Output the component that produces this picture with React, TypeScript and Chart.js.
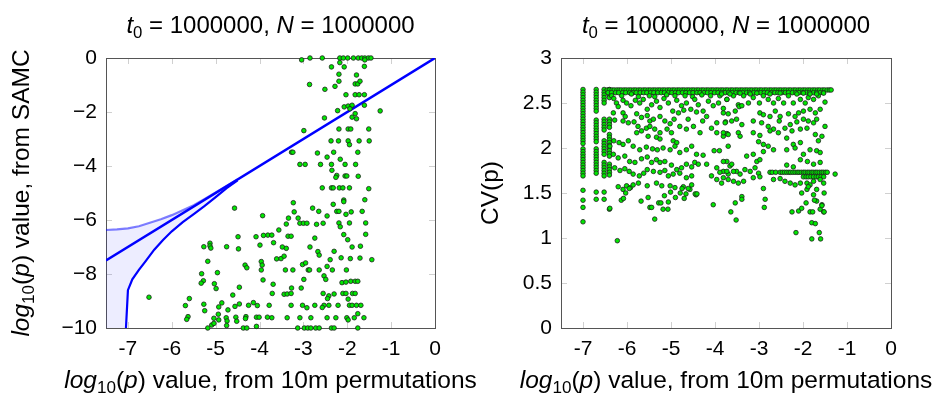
import React, { useEffect, useRef } from 'react';
import { Chart, registerables } from 'chart.js';

Chart.register(...registerables);

const FONT = '"Liberation Sans", Arial, Helvetica, sans-serif';

// ---------- axes ----------
const X_TICKS = [-7, -6, -5, -4, -3, -2, -1, 0];
const X_TICK_LABELS = ['-7', '-6', '-5', '-4', '-3', '-2', '-1', '0'];
const LEFT_Y_TICKS = [-10, -8, -6, -4, -2, 0];
const LEFT_Y_LABELS = ['−10', '−8', '−6', '−4', '−2', '0'];
const RIGHT_Y_TICKS = [0, 0.5, 1, 1.5, 2, 2.5, 3];
const RIGHT_Y_LABELS = ['0', '0.5', '1', '1.5', '2', '2.5', '3'];

type Part = { t: string; i?: boolean; sub?: boolean };
const TITLE: Part[] = [{ t: 't', i: true }, { t: '0', sub: true }, { t: ' = 1000000, ' }, { t: 'N', i: true }, { t: ' = 1000000' }];
const X_LABEL: Part[] = [{ t: 'log', i: true }, { t: '10', sub: true }, { t: '(' }, { t: 'p', i: true }, { t: ') value, from 10m permutations' }];
const LEFT_Y_LABEL: Part[] = [{ t: 'log', i: true }, { t: '10', sub: true }, { t: '(' }, { t: 'p', i: true }, { t: ') value, from SAMC' }];
const RIGHT_Y_LABEL: Part[] = [{ t: 'CV(p)' }];

// ---------- left chart data ----------
const DIAG_X = [-7.5, 0];
const DIAG_Y = [-7.5, 0];
const UPPER_X = [-7.5, -7.25, -7.0, -6.75, -6.5, -6.25, -6.0, -5.75, -5.5, -5.25, -5.0, -4.75, -4.5];
const UPPER_Y = [-6.37, -6.35, -6.31, -6.23, -6.1, -5.97, -5.82, -5.64, -5.45, -5.22, -4.98, -4.74, -4.5];
const LOWER_X = [-7.045, -7.0, -6.9, -6.75, -6.6, -6.4, -6.2, -6.0, -5.75, -5.5, -5.25, -5.0, -4.75, -4.5];
const LOWER_Y = [-10, -8.6, -8.2, -7.85, -7.53, -7.1, -6.74, -6.42, -6.08, -5.78, -5.48, -5.15, -4.82, -4.53];

const LEFT_POINTS: number[][] = [
  [-3.04, -0.07], [-2.85, 0], [-2.57, 0], [-2.17, 0], [-2.09, 0], [-1.99, 0], [-1.86, 0], [-1.75, 0], [-1.67, 0], [-1.6, 0], [-1.52, 0], [-1.46, 0],
  [-2.17, -0.17], [-2.07, -0.33], [-2.36, -0.33], [-1.6, -0.07], [-1.61, -0.31], [-2.19, -0.6], [-1.79, -0.63],
  [-2.86, -0.98], [-2.51, -1.16], [-2.28, -1.05], [-2.19, -0.86], [-1.82, -0.96], [-1.76, -0.96], [-1.71, -0.86],
  [-2.03, -1.36], [-1.82, -1.36], [-1.73, -1.36], [-1.61, -1.36], [-1.25, -1.96],
  [-2.07, -1.81], [-1.98, -1.78], [-1.89, -1.75], [-1.94, -1.88], [-1.82, -2.06], [-1.89, -2.19], [-1.79, -2.25], [-1.61, -1.75], [-2.22, -1.95], [-2.52, -2.22],
  [-2.99, -2.69], [-2.19, -2.63], [-1.98, -2.63], [-1.92, -2.63], [-1.51, -2.63],
  [-2.37, -3.07], [-2.2, -3.07], [-1.98, -3.07], [-1.95, -3.21], [-1.73, -3.07], [-1.5, -3.07],
  [-3.27, -3.49], [-3.24, -3.49], [-2.68, -3.52], [-2.31, -3.49], [-1.76, -3.49], [-2.46, -3.67], [-2.16, -3.75],
  [-3.08, -3.94], [-2.96, -3.94], [-2.61, -3.94], [-2.36, -3.94], [-2.05, -3.94], [-1.81, -3.94],
  [-2.35, -4.16], [-2.24, -4.35], [-2.26, -4.42], [-2.05, -4.37], [-2.01, -4.37], [-1.75, -4.38],
  [-2.57, -4.81], [-2.36, -4.81], [-2.32, -4.81], [-2.18, -4.81], [-2.1, -4.81], [-1.95, -4.81], [-1.51, -4.84],
  [-3.23, -5.36], [-2.08, -5.26], [-2.08, -5.32], [-1.6, -5.25], [-2.32, -5.42], [-2.79, -5.56], [-2.65, -5.68], [-2.24, -5.68], [-2.19, -5.68], [-1.91, -5.7], [-1.66, -5.68], [-3.21, -5.7],
  [-3.34, -5.93], [-3.12, -5.93], [-2.46, -5.85], [-2.03, -5.79],
  [-3.39, -6.15], [-3.08, -6.12], [-3.0, -6.12], [-2.92, -6.12], [-2.7, -6.16], [-2.55, -6.12], [-2.19, -6.11], [-2.16, -6.25], [-1.95, -6.11], [-1.58, -6.11],
  [-3.56, -6.37], [-3.81, -6.56], [-3.72, -6.56], [-3.35, -6.6], [-3.28, -6.6], [-2.08, -6.54], [-1.99, -6.73], [-1.58, -6.53], [-2.74, -6.67],
  [-3.68, -6.84], [-2.85, -7.0], [-3.48, -7.0], [-3.39, -7.05], [-2.67, -7.17], [-2.64, -7.3], [-2.3, -7.16], [-1.89, -7.0], [-1.7, -6.97],
  [-3.61, -7.44], [-3.51, -7.43], [-3.44, -7.34], [-2.39, -7.47], [-2.14, -7.4], [-1.93, -7.43], [-1.71, -7.41], [-1.44, -7.47],
  [-3.02, -7.65], [-2.95, -7.59], [-2.46, -7.72],
  [-3.41, -7.85], [-3.24, -7.85], [-2.89, -7.85], [-2.86, -7.85], [-2.64, -7.85], [-2.34, -7.85], [-2.02, -7.85],
  [-2.53, -8.07], [-2.49, -8.2], [-2.12, -8.32], [-2.03, -8.3], [-1.92, -8.27], [-1.82, -8.27], [-1.76, -8.27], [-2.99, -8.2],
  [-3.27, -8.52], [-3.05, -8.52], [-3.69, -8.38],
  [-3.44, -8.75], [-3.37, -8.74], [-3.28, -8.72], [-3.71, -8.72], [-2.55, -8.72], [-2.42, -8.81], [-2.3, -8.74], [-2.45, -8.91], [-2.1, -8.72], [-2.03, -8.72], [-1.88, -8.72], [-1.82, -8.72], [-1.98, -8.93],
  [-3.78, -9.16], [-3.28, -9.16], [-3.02, -9.16], [-2.92, -9.25], [-2.74, -9.16], [-2.53, -9.16], [-2.42, -9.16], [-2.21, -9.16], [-1.95, -9.16], [-1.89, -9.16], [-1.79, -9.16], [-1.69, -9.16], [-2.57, -9.24], [-1.76, -9.47],
  [-3.72, -9.62], [-3.37, -9.62], [-3.08, -9.62], [-2.83, -9.62], [-2.46, -9.62], [-2.26, -9.62], [-2.01, -9.62], [-1.84, -9.62], [-1.62, -9.62], [-1.98, -9.7],
  [-3.13, -10], [-2.98, -10], [-2.9, -10], [-2.83, -10], [-2.72, -10], [-2.64, -10], [-2.36, -10], [-2.3, -10], [-1.76, -10],
  [-4.57, -5.56], [-3.93, -5.84], [-4.49, -6.62], [-4.08, -6.62], [-3.91, -6.57],
  [-5.27, -6.99], [-5.13, -6.86], [-5.13, -6.96], [-5.11, -7.04], [-4.75, -6.99], [-4.48, -7.07], [-3.99, -6.93],
  [-5.18, -7.53], [-4.33, -7.67], [-4.29, -7.77], [-3.96, -7.54], [-3.94, -7.67], [-3.96, -7.85],
  [-4.96, -7.95], [-5.32, -7.99], [-3.92, -8.22], [-5.28, -8.25], [-5.33, -8.34], [-5.03, -8.36], [-4.99, -8.54], [-4.46, -8.49],
  [-6.52, -8.86], [-5.6, -8.91], [-4.61, -8.78], [-5.69, -9.17], [-5.27, -9.12], [-5.25, -9.36], [-4.86, -9.07], [-4.93, -9.22], [-4.72, -9.33], [-4.56, -9.2], [-4.46, -9.11], [-4.25, -9.16], [-4.14, -9.06], [-4.05, -9.17],
  [-5.63, -9.58], [-5.66, -9.68], [-5.04, -9.64], [-4.94, -9.49], [-4.93, -9.7], [-4.76, -9.62], [-4.74, -9.74], [-4.54, -9.6], [-4.52, -9.75], [-4.07, -9.6], [-4.01, -9.6], [-3.82, -9.6], [-4.31, -9.58], [-4.32, -9.65],
  [-4.75, -9.91], [-5.18, -10], [-5.09, -9.89], [-5.04, -9.83], [-4.37, -10], [-4.29, -10], [-4.07, -9.94],
];

// ---------- right chart data ----------
const CV_COL_X = [-7, -6.7, -6.52, -6.4];
const CV_COL_Y: number[][] = [
  [2.65, 2.62, 2.59, 2.56, 2.53, 2.5, 2.47, 2.44, 2.41, 2.38, 2.35, 2.32, 2.29, 2.26, 2.23, 2.2, 2.17, 2.14, 2.11, 2.08, 2.05, 1.99, 1.96, 1.93, 1.9, 1.87, 1.84, 1.81, 1.78, 1.75, 1.72, 1.69, 1.53, 1.42, 1.34, 1.18],
  [2.65, 2.62, 2.59, 2.56, 2.53, 2.5, 2.47, 2.44, 2.41, 2.31, 2.28, 2.25, 2.22, 2.19, 2.16, 2.13, 2.1, 2.07, 1.99, 1.96, 1.93, 1.9, 1.87, 1.84, 1.81, 1.78, 1.75, 1.72, 1.51, 1.43],
  [2.65, 2.62, 2.59, 2.56, 2.53, 2.5, 2.32, 2.29, 2.26, 2.23, 2.2, 2.08, 2.05, 2.02, 1.99, 1.96, 1.93, 1.84, 1.81, 1.78, 1.75, 1.72, 1.69, 1.51, 1.43],
  [2.65, 2.62, 2.59, 2.56, 2.32, 2.29, 2.26, 2.23, 2.15, 2.12, 2.09, 2.06, 2.03, 2.0, 1.97, 1.94, 1.91, 1.82, 1.79, 1.76, 1.73, 1.7, 1.32],
];
const CV_TOP_ROW_Y = 2.645;
const CV_TOP_ROW_X = [
  -6.45, -6.4, -6.34, -6.29, -6.23, -6.18, -6.13, -6.07, -6.02, -5.96, -5.91, -5.85, -5.8, -5.74, -5.69, -5.63, -5.58, -5.52, -5.47, -5.41,
  -5.36, -5.3, -5.25, -5.19, -5.14, -5.08, -5.03, -4.97, -4.92, -4.86, -4.81, -4.75, -4.7, -4.64, -4.59, -4.53, -4.48, -4.42, -4.37, -4.31,
  -4.26, -4.2, -4.15, -4.09, -4.04, -3.98, -3.93, -3.87, -3.82, -3.76, -3.71, -3.65, -3.6, -3.54, -3.49, -3.43, -3.38, -3.32, -3.27, -3.21,
  -3.16, -3.1, -3.05, -2.99, -2.94, -2.88, -2.83, -2.77, -2.72, -2.66, -2.61, -2.55, -2.5, -2.44, -2.39, -2.33, -2.28, -2.22, -2.17, -2.11,
  -2.06, -2.0, -1.95, -1.89, -1.84, -1.78, -1.73, -1.67, -1.62, -1.56, -1.51, -1.45, -1.4, -1.36,
];
const CV_SECOND_ROW_Y = 2.615;
const CV_SECOND_ROW_X = [
  -6.43, -6.35, -6.26, -6.19, -6.1, -6.03, -5.94, -5.86, -5.79, -5.7, -5.62, -5.55, -5.46, -5.39, -5.3, -5.22, -5.15, -5.06, -4.98, -4.9,
  -4.83, -4.74, -4.66, -4.58, -4.5, -4.41, -4.34, -4.25, -4.17, -4.09, -4.01, -3.93, -3.85, -3.77, -3.69, -3.61, -3.52, -3.45, -3.37, -3.28,
  -3.21, -3.12, -3.04, -2.96, -2.88, -2.81, -2.72, -2.64, -2.57, -2.48, -2.4, -2.33, -2.24, -2.16, -2.09, -2.0, -1.92, -1.85, -1.76, -1.69,
  -1.61, -1.54,
];
const CV_ROW_173_Y = 1.73;
const CV_ROW_173_X = [
  -2.75, -2.7, -2.62, -2.52, -2.47, -2.42, -2.37, -2.32, -2.28, -2.23, -2.18, -2.13, -2.09, -2.04, -1.99, -1.95, -1.9, -1.86, -1.81, -1.77,
  -1.72, -1.68, -1.63, -1.58, -1.54, -1.49, -1.45,
];
const CV_ROW_168_Y = 1.68;
const CV_ROW_168_X = [-1.99, -1.93, -1.88, -1.82, -1.76, -1.7, -1.65, -1.59, -1.53];

const CV_CLOUD: number[][] = [
  [-6.35, 2.58], [-6.12, 2.58], [-5.9, 2.6], [-5.74, 2.57], [-5.49, 2.58], [-5.37, 2.57], [-5.1, 2.59], [-4.91, 2.58], [-4.68, 2.58], [-4.51, 2.57], [-4.3, 2.59], [-4.1, 2.58], [-3.89, 2.58],
  [-6.3, 2.55], [-6.24, 2.5], [-6.2, 2.46], [-6.09, 2.53], [-6.01, 2.5], [-5.91, 2.47], [-5.81, 2.53], [-5.71, 2.5], [-5.63, 2.54], [-5.54, 2.43], [-5.44, 2.48], [-5.33, 2.52], [-5.25, 2.45], [-5.16, 2.55],
  [-5.06, 2.5], [-4.96, 2.41], [-4.87, 2.53], [-4.76, 2.47], [-4.65, 2.5], [-4.55, 2.43], [-4.46, 2.54], [-4.38, 2.48], [-4.27, 2.41], [-4.15, 2.52], [-4.04, 2.47], [-3.92, 2.5], [-3.81, 2.44], [-3.73, 2.54],
  [-6.31, 2.39], [-6.09, 2.39], [-6.04, 2.35], [-5.78, 2.38], [-5.67, 2.34], [-5.54, 2.36], [-5.48, 2.3], [-5.4, 2.32], [-5.25, 2.35], [-5.14, 2.3], [-5.02, 2.27], [-4.93, 2.32], [-4.83, 2.39], [-4.71, 2.42],
  [-4.61, 2.32], [-4.42, 2.4], [-4.28, 2.3], [-4.19, 2.35], [-3.96, 2.28], [-3.76, 2.29], [-3.7, 2.38],
  [-6.28, 2.31], [-6.09, 2.3], [-5.97, 2.28], [-5.84, 2.29], [-5.75, 2.24], [-5.56, 2.22], [-5.48, 2.24], [-5.37, 2.21], [-5.25, 2.17], [-5.09, 2.21], [-4.99, 2.17], [-4.8, 2.24], [-4.65, 2.21], [-4.49, 2.24],
  [-4.34, 2.17], [-4.08, 2.22], [-3.96, 2.17], [-3.81, 2.13], [-3.73, 2.16], [-5.78, 2.17], [-5.67, 2.19], [-5.52, 2.13], [-5.33, 2.12], [-5.25, 2.1], [-4.95, 2.08], [-4.87, 2.06],
  [-6.39, 2.02], [-6.3, 2.08], [-6.18, 2.06], [-6.09, 2.04], [-5.97, 2.08], [-5.86, 2.02], [-5.71, 1.98], [-5.56, 2.01], [-5.42, 1.99], [-5.31, 1.98], [-5.18, 2.0], [-5.02, 1.98], [-4.91, 2.02], [-4.8, 1.95],
  [-4.65, 1.98], [-4.53, 2.02], [-4.42, 1.93], [-4.27, 1.92], [-4.02, 1.97], [-3.9, 1.97], [-3.73, 1.85],
  [-6.31, 1.93], [-6.2, 1.89], [-6.05, 1.91], [-5.94, 1.85], [-5.82, 1.84], [-5.67, 1.88], [-5.54, 1.9], [-5.44, 1.84], [-5.33, 1.87], [-5.25, 1.84], [-5.14, 1.85], [-4.99, 1.81], [-4.87, 1.76], [-4.76, 1.78],
  [-4.65, 1.82], [-4.53, 1.79], [-4.46, 1.84], [-4.38, 1.82], [-4.19, 1.82], [-3.96, 1.78], [-3.81, 1.74], [-3.7, 1.71],
  [-6.28, 1.78], [-6.16, 1.75], [-6.05, 1.77], [-5.95, 1.74], [-5.86, 1.71], [-5.72, 1.69], [-5.62, 1.72], [-5.54, 1.76], [-5.4, 1.74], [-5.25, 1.73], [-5.14, 1.75], [-5.06, 1.69], [-4.95, 1.71], [-4.8, 1.72],
  [-4.65, 1.67], [-4.53, 1.69], [-4.08, 1.69], [-3.96, 1.65], [-3.85, 1.61],
  [-6.2, 1.57], [-6.09, 1.54], [-6.01, 1.58], [-5.92, 1.56], [-5.74, 1.61], [-5.54, 1.58], [-5.33, 1.61], [-5.21, 1.58], [-5.02, 1.58], [-4.91, 1.56], [-4.72, 1.57], [-4.57, 1.54], [-4.43, 1.48], [-4.53, 1.59],
  [-6.39, 1.33], [-6.22, 0.97], [-6.13, 1.42], [-6.08, 1.44], [-6.03, 1.5], [-5.95, 1.55], [-5.86, 1.59], [-5.68, 1.41], [-5.52, 1.45], [-5.48, 1.34], [-5.44, 1.34], [-5.37, 1.21], [-5.28, 1.39], [-5.23, 1.39],
  [-5.18, 1.32], [-5.07, 1.32], [-5.15, 1.47], [-5.06, 1.4], [-5.01, 1.51], [-4.9, 1.45], [-4.79, 1.5], [-4.75, 1.55], [-4.7, 1.44], [-4.66, 1.49], [-4.61, 1.55], [-4.45, 1.49], [-4.41, 1.49], [-4.04, 1.37],
  [-3.85, 2.6], [-3.73, 2.54], [-3.58, 2.58], [-3.47, 2.48], [-3.35, 2.58], [-3.24, 2.5], [-3.13, 2.56], [-2.99, 2.5], [-2.9, 2.58], [-2.79, 2.54], [-2.67, 2.5], [-2.56, 2.55], [-2.44, 2.5], [-2.33, 2.58],
  [-2.22, 2.5], [-2.06, 2.54], [-1.95, 2.5], [-1.88, 2.56], [-1.76, 2.54], [-1.65, 2.58], [-1.5, 2.51],
  [-3.66, 2.6], [-3.43, 2.61], [-3.2, 2.6], [-3.05, 2.61], [-2.75, 2.6], [-2.52, 2.61], [-2.14, 2.6], [-1.99, 2.61], [-1.84, 2.6], [-1.69, 2.6], [-1.53, 2.61],
  [-3.81, 2.39], [-3.54, 2.41], [-3.45, 2.46], [-3.39, 2.47], [-2.98, 2.39], [-2.9, 2.37], [-2.75, 2.35], [-2.63, 2.41], [-2.52, 2.35], [-2.33, 2.38], [-2.18, 2.35], [-2.1, 2.39], [-1.99, 2.41], [-1.84, 2.43],
  [-1.72, 2.39], [-1.61, 2.43],
  [-3.77, 2.28], [-3.62, 2.3], [-3.51, 2.32], [-3.39, 2.26], [-3.13, 2.3], [-2.94, 2.28], [-2.79, 2.24], [-2.67, 2.21], [-2.54, 2.3], [-2.41, 2.22], [-2.29, 2.26], [-2.14, 2.29], [-1.99, 2.32], [-1.88, 2.3],
  [-1.76, 2.28], [-1.69, 2.32], [-1.5, 2.24],
  [-3.81, 2.17], [-3.7, 2.15], [-3.47, 2.17], [-3.43, 2.13], [-3.13, 2.17], [-2.98, 2.14], [-2.75, 2.19], [-2.56, 2.17], [-2.37, 2.11], [-2.25, 2.19], [-2.06, 2.21], [-1.91, 2.22], [-1.72, 2.15], [-1.65, 2.08],
  [-1.57, 2.13],
  [-3.7, 2.02], [-3.01, 2.07], [-2.9, 2.04], [-2.79, 2.02], [-2.67, 1.98], [-2.37, 1.98], [-2.22, 2.04], [-2.18, 2.0], [-2.06, 2.06], [-1.99, 1.93], [-1.84, 1.98], [-1.69, 1.97], [-1.61, 1.95],
  [-3.81, 1.85], [-3.66, 1.8], [-3.62, 1.82], [-3.51, 1.74], [-3.28, 1.91], [-3.13, 1.93], [-3.05, 1.85], [-2.98, 1.87], [-2.9, 1.96],
  [-3.89, 1.73], [-3.73, 1.74], [-3.58, 1.74], [-3.43, 1.71], [-3.32, 1.76], [-3.2, 1.74], [-3.09, 1.78], [-3.01, 1.72], [-2.37, 1.81], [-2.22, 1.79], [-2.06, 1.87], [-1.9, 1.85], [-1.76, 1.82], [-1.61, 1.84],
  [-3.81, 1.67], [-3.7, 1.65], [-3.58, 1.63], [-3.47, 1.61], [-3.35, 1.63], [-3.13, 1.67], [-2.98, 1.68], [-2.67, 1.65], [-2.52, 1.66], [-2.41, 1.63], [-2.29, 1.61], [-2.18, 1.59], [-2.06, 1.61], [-1.91, 1.61],
  [-1.76, 1.63], [-1.61, 1.65], [-1.53, 1.61],
  [-2.9, 1.55], [-2.86, 1.43], [-2.88, 1.34], [-2.03, 1.5], [-1.91, 1.54], [-1.84, 1.59], [-1.69, 1.54], [-1.88, 1.57], [-1.76, 1.48], [-1.69, 1.41], [-1.57, 1.37], [-1.61, 1.32], [-1.53, 1.29], [-1.52, 1.5],
  [-3.39, 1.46], [-3.39, 1.43], [-3.54, 1.39], [-3.64, 1.29], [-3.52, 1.2], [-2.25, 1.29], [-2.1, 1.3], [-2.03, 1.33], [-1.93, 1.39], [-1.84, 1.29], [-1.78, 1.29], [-1.74, 1.42], [-1.57, 1.36], [-1.52, 1.29],
  [-1.8, 1.17], [-1.72, 1.16], [-2.16, 1.06], [-1.63, 1.06], [-1.8, 0.99], [-1.6, 0.99], [-1.27, 1.71],
];

// ---------- helpers ----------
const pts = (xs: number[], ys: number[]) => xs.map((x, k) => ({ x, y: ys[k] }));
const pairs = (arr: number[][]) => arr.map(([x, y]) => ({ x, y }));
const row = (xs: number[], y: number) => xs.map((x) => ({ x, y }));

function drawRich(ctx: CanvasRenderingContext2D, parts: Part[], x: number, y: number, size: number, rot = 0) {
  ctx.save();
  ctx.translate(x, y);
  if (rot) ctx.rotate(rot);
  const fontOf = (p: Part) => `${p.i ? 'italic ' : ''}${p.sub ? (size * 0.7).toFixed(1) : size}px ${FONT}`;
  let total = 0;
  const widths = parts.map((p) => {
    ctx.font = fontOf(p);
    const w = ctx.measureText(p.t).width;
    total += w;
    return w;
  });
  let cx = -total / 2;
  ctx.fillStyle = '#000';
  ctx.textBaseline = 'alphabetic';
  ctx.textAlign = 'left';
  parts.forEach((p, k) => {
    ctx.font = fontOf(p);
    ctx.fillText(p.t, cx, p.sub ? size * 0.22 : 0);
    cx += widths[k];
  });
  ctx.restore();
}

const framePlugin = {
  id: 'frameTicks',
  beforeDatasetsDraw(chart: any) {
    const { ctx, chartArea: a, scales } = chart;
    ctx.save();
    ctx.strokeStyle = '#d0d0d0';
    ctx.lineWidth = 1;
    const len = 6;
    ctx.beginPath();
    for (const t of scales.x.ticks) {
      const px = Math.round(scales.x.getPixelForValue(t.value)) + 0.5;
      ctx.moveTo(px, a.bottom);
      ctx.lineTo(px, a.bottom - len);
      ctx.moveTo(px, a.top);
      ctx.lineTo(px, a.top + len);
    }
    for (const t of scales.y.ticks) {
      const py = Math.round(scales.y.getPixelForValue(t.value)) + 0.5;
      ctx.moveTo(a.left, py);
      ctx.lineTo(a.left + len, py);
      ctx.moveTo(a.right, py);
      ctx.lineTo(a.right - len, py);
    }
    ctx.stroke();
    ctx.strokeStyle = '#555';
    ctx.strokeRect(Math.round(a.left) + 0.5, Math.round(a.top) + 0.5, Math.round(a.right - a.left), Math.round(a.bottom - a.top));
    ctx.restore();
  },
};

function textPlugin(yLabel: Part[], yLabelX: number) {
  return {
    id: 'richText',
    afterDraw(chart: any) {
      const { ctx, chartArea: a } = chart;
      const cx = (a.left + a.right) / 2;
      drawRich(ctx, TITLE, cx, 33, 24);
      drawRich(ctx, X_LABEL, cx, 388, 24.5);
      drawRich(ctx, yLabel, yLabelX, (a.top + a.bottom) / 2, 24.5, -Math.PI / 2);
    },
  };
}

const tickFont = { family: FONT, size: 21 };

function baseOptions(yMin: number, yMax: number, yTicks: number[], yLabels: string[], yWidth: number, padRight: number) {
  return {
    animation: false,
    responsive: false,
    maintainAspectRatio: false,
    events: [],
    layout: { padding: { left: 0, right: padRight, top: 58, bottom: 0 } },
    plugins: { legend: { display: false }, tooltip: { enabled: false }, title: { display: false } },
    scales: {
      x: {
        type: 'linear',
        min: -7.5,
        max: 0,
        afterBuildTicks: (s: any) => {
          s.ticks = X_TICKS.map((v) => ({ value: v }));
        },
        afterFit: (s: any) => {
          s.height = 67;
        },
        grid: { display: false, drawTicks: false },
        border: { display: false },
        ticks: { callback: (_v: any, i: number) => X_TICK_LABELS[i], font: tickFont, color: '#000', padding: 9, maxRotation: 0, autoSkip: false },
      },
      y: {
        type: 'linear',
        min: yMin,
        max: yMax,
        afterBuildTicks: (s: any) => {
          s.ticks = yTicks.map((v) => ({ value: v }));
        },
        afterFit: (s: any) => {
          s.width = yWidth;
        },
        grid: { display: false, drawTicks: false },
        border: { display: false },
        ticks: { callback: (_v: any, i: number) => yLabels[i], font: tickFont, color: '#000', padding: 9, autoSkip: false },
      },
    },
  };
}

const pointStyle = {
  pointRadius: 2.3,
  pointBackgroundColor: '#00e600',
  pointBorderColor: '#1e1e1e',
  pointBorderWidth: 0.8,
  showLine: false,
  clip: false as const,
};

export default function App() {
  const leftRef = useRef<HTMLCanvasElement>(null);
  const rightRef = useRef<HTMLCanvasElement>(null);

  useEffect(() => {
    const upper = pts(UPPER_X, UPPER_Y);
    const lower = pts(LOWER_X, LOWER_Y);
    const shade = [...upper, ...lower.slice().reverse(), { x: -7.5, y: -10 }];

    const left = new Chart(leftRef.current as HTMLCanvasElement, {
      type: 'scatter',
      data: {
        datasets: [
          { data: pairs(LEFT_POINTS), order: 0, ...pointStyle },
          { data: pts(DIAG_X, DIAG_Y), order: 1, showLine: true, pointRadius: 0, borderColor: '#0000ff', borderWidth: 2.5 },
          { data: lower, order: 2, showLine: true, pointRadius: 0, borderColor: '#0000ff', borderWidth: 2.2 },
          { data: upper, order: 3, showLine: true, pointRadius: 0, borderColor: 'rgba(0,0,255,0.5)', borderWidth: 2.2 },
          { data: shade, order: 4, showLine: true, pointRadius: 0, borderWidth: 0, borderColor: 'rgba(0,0,0,0)', backgroundColor: 'rgba(0,0,255,0.07)', fill: 'shape' },
        ],
      } as any,
      options: baseOptions(-10, 0, LEFT_Y_TICKS, LEFT_Y_LABELS, 106, 45) as any,
      plugins: [framePlugin, textPlugin(LEFT_Y_LABEL, 29)],
    });

    const cvData = [
      ...CV_COL_X.flatMap((x, k) => CV_COL_Y[k].map((y) => ({ x, y }))),
      ...row(CV_TOP_ROW_X, CV_TOP_ROW_Y),
      ...row(CV_SECOND_ROW_X, CV_SECOND_ROW_Y),
      ...row(CV_ROW_173_X, CV_ROW_173_Y),
      ...row(CV_ROW_168_X, CV_ROW_168_Y),
      ...pairs(CV_CLOUD),
    ];

    const right = new Chart(rightRef.current as HTMLCanvasElement, {
      type: 'scatter',
      data: { datasets: [{ data: cvData, ...pointStyle }] } as any,
      options: baseOptions(0, 3, RIGHT_Y_TICKS, RIGHT_Y_LABELS, 94, 44) as any,
      plugins: [framePlugin, textPlugin(RIGHT_Y_LABEL, 31)],
    });

    return () => {
      left.destroy();
      right.destroy();
    };
  }, []);

  return (
    <div style={{ position: 'absolute', left: 0, top: 0, width: 935, height: 395, background: '#fff', overflow: 'hidden' }}>
      <canvas ref={leftRef} width={480} height={395} style={{ position: 'absolute', left: 0, top: 0, display: 'block', width: 480, height: 395 }} />
      <canvas ref={rightRef} width={468} height={395} style={{ position: 'absolute', left: 467, top: 0, display: 'block', width: 468, height: 395 }} />
    </div>
  );
}
